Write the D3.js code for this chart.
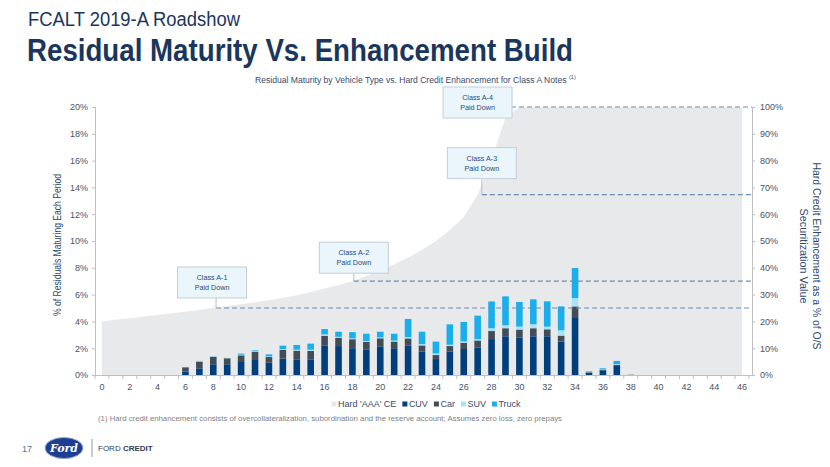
<!DOCTYPE html>
<html><head><meta charset="utf-8">
<script src="https://cdn.jsdelivr.net/npm/d3@7"></script>
<style>
body{margin:0;background:#fff;}
svg{display:block;font-family:"Liberation Sans",Arial,sans-serif;}
</style></head>
<body><svg id="c" width="830" height="467"></svg>
<script>
// ---------- DATA ----------
const periods = [0,1,2,3,4,5,6,7,8,9,10,11,12,13,14,15,16,17,18,19,20,21,22,23,24,25,26,27,28,29,30,31,32,33,34,35,36,37,38,39,40,41,42,43,44,45,46];
const cuv   = [0,0,0,0,0,0,0.25,0.50,0.80,0.80,0.97,1.12,0.92,1.22,1.17,1.17,2.21,2.16,2.00,1.92,2.14,2.00,2.21,1.74,1.19,1.74,1.94,2.06,2.68,2.89,2.79,2.89,2.89,2.49,4.32,0.15,0.35,0.67,0.01,0,0,0,0,0,0,0,0];
const car   = [0,0,0,0,0,0,0.33,0.50,0.57,0.45,0.50,0.60,0.42,0.67,0.65,0.62,0.72,0.62,0.67,0.55,0.60,0.50,0.52,0.47,0.30,0.42,0.47,0.52,0.60,0.60,0.60,0.60,0.52,0.45,0.80,0.05,0.05,0.10,0.01,0,0,0,0,0,0,0,0];
const suv   = [0,0,0,0,0,0,0.02,0.03,0.05,0.05,0.05,0.05,0.05,0.05,0.07,0.10,0.10,0.07,0.07,0.07,0.07,0.07,0.10,0.10,0.12,0.10,0.10,0.10,0.21,0.22,0.22,0.30,0.20,0.40,0.62,0.02,0.03,0.05,0,0,0,0,0,0,0,0,0];
const truck = [0,0,0,0,0,0,0,0.02,0,0,0.08,0.07,0.15,0.25,0.35,0.45,0.40,0.38,0.46,0.54,0.42,0.51,1.35,0.92,0.88,1.52,1.45,1.75,2.00,2.16,1.84,1.86,1.89,1.78,2.24,0.05,0.07,0.23,0,0,0,0,0,0,0,0,0];
const hardCE = [20.0,20.6,21.2,21.8,22.4,23.0,23.6,24.3,25.0,25.7,26.4,27.1,27.9,28.8,29.8,31.0,32.3,33.6,35.0,36.9,39.0,41.3,43.8,46.7,50.0,54.0,59.0,67.3,80.5,96.0,100,100,100,100,100,100,100,100,100,100,100,100,100,100,100,100,100];
const leftTicks  = [0,2,4,6,8,10,12,14,16,18,20];
const rightTicks = [0,10,20,30,40,50,60,70,80,90,100];
const xLabels    = [0,2,4,6,8,10,12,14,16,18,20,22,24,26,28,30,32,34,36,38,40,42,44,46];
const trancheNames  = ["Class A-1","Class A-2","Class A-3","Class A-4"];
const paydownPeriod = [8.2, 18.1, 27.3, 29.4];
const paydownCE     = [25, 35, 67.3, 100];
const seriesNames = ["Hard 'AAA' CE","CUV","Car","SUV","Truck"];

// ---------- LAYOUT / STYLE ----------
const colors = {"Hard 'AAA' CE":"#e8e9eb", CUV:"#003f7b", Car:"#424c57", SUV:"#a6e3f7", Truck:"#19afec"};
const navy = "#1b365d", textC = "#44546a";
const boxOffset = [[-4,-10],[0,-8],[0,-16],[-34,10]];
const boxW = 69, boxH = 31;

const svg = d3.select("#c");
svg.append("rect").attr("width",830).attr("height",467).attr("fill","#fff");

// titles
svg.append("text").attr("x",28).attr("y",26).attr("font-size",20).attr("fill",navy)
  .attr("textLength",212).attr("lengthAdjust","spacingAndGlyphs").text("FCALT 2019-A Roadshow");
svg.append("text").attr("x",27).attr("y",61).attr("font-size",31).attr("font-weight","bold").attr("fill",navy)
  .attr("textLength",546).attr("lengthAdjust","spacingAndGlyphs").text("Residual Maturity Vs. Enhancement Build");
const subT = svg.append("text").attr("x",0).attr("y",0).attr("font-size",9).attr("fill","#3a4a66")
  .text("Residual Maturity by Vehicle Type vs. Hard Credit Enhancement for Class A Notes");
const subW = subT.node().getComputedTextLength();
subT.attr("transform",`translate(255,83) scale(${312/subW},1)`);
svg.append("text").attr("x",569).attr("y",79).attr("font-size",5.5).attr("fill","#3a4a66").text("(1)");

// scales
const x = d3.scaleBand().domain(periods).range([95,749]).padding(0);
const bw = x.bandwidth();
const xc = d3.scaleLinear().domain([0,46]).range([x(0)+bw/2, x(46)+bw/2]);
const yL = d3.scaleLinear().domain([0,20]).range([375,107]);
const yR = d3.scaleLinear().domain([0,100]).range([375,107]);

// area
const area = d3.area().x((d,i)=>xc(periods[i])).y0(yR(0)).y1(d=>yR(d));
svg.append("path").datum(hardCE).attr("d",area).attr("fill",colors["Hard 'AAA' CE"]);

// stacked bars
const rows = periods.map((p,i)=>({p, CUV:cuv[i], Car:car[i], SUV:suv[i], Truck:truck[i]}));
const stack = d3.stack().keys(["CUV","Car","SUV","Truck"])(rows);
const barW = 6.6;
svg.append("g").selectAll("g").data(stack).join("g").attr("fill",d=>colors[d.key])
  .selectAll("rect").data(d=>d).join("rect")
  .attr("x",d=>xc(d.data.p)-barW/2).attr("width",barW)
  .attr("y",d=>yL(d[1])).attr("height",d=>Math.max(0,yL(d[0])-yL(d[1])));

// axes
const axColor = "#bfbfbf";
const gL = svg.append("g").attr("transform","translate(95,0)")
  .call(d3.axisLeft(yL).tickValues(leftTicks).tickFormat(d=>d+"%").tickSize(3).tickPadding(4));
const gR = svg.append("g").attr("transform","translate(752,0)")
  .call(d3.axisRight(yR).tickValues(rightTicks).tickFormat(d=>d+"%").tickSize(3).tickPadding(5));
[gL,gR].forEach(g=>{
  g.select(".domain").attr("stroke",axColor);
  g.selectAll(".tick line").attr("stroke",axColor);
  g.selectAll("text").attr("fill",textC).attr("font-size",9).attr("font-family","Liberation Sans, Arial, sans-serif");
});
// x axis
svg.append("line").attr("x1",95).attr("x2",752).attr("y1",375.5).attr("y2",375.5).attr("stroke",axColor);
svg.append("g").selectAll("line").data(periods.concat([47])).join("line")
  .attr("x1",d=>d<47?x(d):x(46)+bw).attr("x2",d=>d<47?x(d):x(46)+bw)
  .attr("y1",375.5).attr("y2",379).attr("stroke",axColor);
svg.append("g").selectAll("text").data(xLabels).join("text")
  .attr("x",d=>xc(d)).attr("y",390).attr("text-anchor","middle").attr("font-size",9).attr("fill",textC).text(d=>d);

// axis titles
svg.append("text").attr("transform","translate(61,245) rotate(-90)").attr("text-anchor","middle")
  .attr("font-size",10.5).attr("fill","#2e4a70").attr("textLength",142).attr("lengthAdjust","spacingAndGlyphs")
  .text("% of Residuals Maturing Each Period");
svg.append("text").attr("transform","translate(813,256) rotate(90)").attr("text-anchor","middle")
  .attr("font-size",10.5).attr("fill","#2e4a70").attr("textLength",187).attr("lengthAdjust","spacingAndGlyphs")
  .text("Hard Credit Enhancement as a % of O/S");
svg.append("text").attr("transform","translate(800,256) rotate(90)").attr("text-anchor","middle")
  .attr("font-size",10.5).attr("fill","#2e4a70").attr("textLength",95).attr("lengthAdjust","spacingAndGlyphs")
  .text("Securitization Value");

// paydown dashed lines + callouts
trancheNames.forEach((name,i)=>{
  const px = xc(paydownPeriod[i]), py = yR(paydownCE[i]);
  svg.append("line").attr("x1",px).attr("x2",752).attr("y1",py).attr("y2",py)
    .attr("stroke","#6c8db8").attr("stroke-width",1.2).attr("stroke-dasharray","5,3");
  const [dx,dy] = boxOffset[i];
  const cx = px+dx, by = py+dy;
  let bx, byTop;
  if(i<3){
    svg.append("line").attr("x1",px).attr("x2",px).attr("y1",by).attr("y2",py).attr("stroke","#b5bfc8");
    bx = cx-boxW/2; byTop = by-boxH;
  } else {
    bx = px-boxW+1; byTop = py-20;
  }
  svg.append("rect").attr("x",bx).attr("y",byTop).attr("width",boxW).attr("height",boxH)
    .attr("fill","#eaf6fc").attr("stroke","#c3ced8");
  const t = svg.append("text").attr("text-anchor","middle").attr("font-size",7.2).attr("fill","#2e4a70");
  t.append("tspan").attr("x",bx+boxW/2).attr("y",byTop+13).text(name);
  t.append("tspan").attr("x",bx+boxW/2).attr("y",byTop+23).text("Paid Down");
});

// legend
const lg = svg.append("g");
let lx = 0;
seriesNames.forEach(n=>{
  const g = lg.append("g").attr("transform",`translate(${lx},0)`);
  g.append("rect").attr("x",0).attr("y",-5.5).attr("width",5).attr("height",5).attr("fill",colors[n]);
  const tt = g.append("text").attr("x",6.5).attr("y",0).attr("font-size",9).attr("fill","#3a4a66").text(n);
  lx += 6.5 + tt.node().getComputedTextLength() + 6;
});
lg.attr("transform",`translate(${426 - (lx-6)/2},407)`);

// footnote
svg.append("text").attr("x",98).attr("y",421).attr("font-size",7.5).attr("fill","#7f7f7f")
  .attr("textLength",464).attr("lengthAdjust","spacingAndGlyphs")
  .text("(1) Hard credit enhancement consists of overcollateralization, subordination and the reserve account; Assumes zero loss, zero prepays");

// footer
svg.append("text").attr("x",22).attr("y",452).attr("font-size",9).attr("fill","#5a6f8f").text("17");
svg.append("ellipse").attr("cx",64).attr("cy",448).attr("rx",19).attr("ry",10.5).attr("fill","#1c3f94").attr("stroke","#9aa8c8").attr("stroke-width",1);
svg.append("text").attr("x",64).attr("y",452).attr("text-anchor","middle").attr("font-size",11).attr("font-style","italic")
  .attr("font-weight","bold").attr("font-family","DejaVu Serif, serif").attr("fill","#fff").text("Ford");
svg.append("line").attr("x1",92).attr("x2",92).attr("y1",439).attr("y2",457).attr("stroke","#8a97aa");
const fc = svg.append("text").attr("x",98).attr("y",451).attr("font-size",8).attr("fill","#2b3f5c");
fc.append("tspan").text("FORD ");
fc.append("tspan").attr("font-weight","bold").text("CREDIT");
</script></body></html>
